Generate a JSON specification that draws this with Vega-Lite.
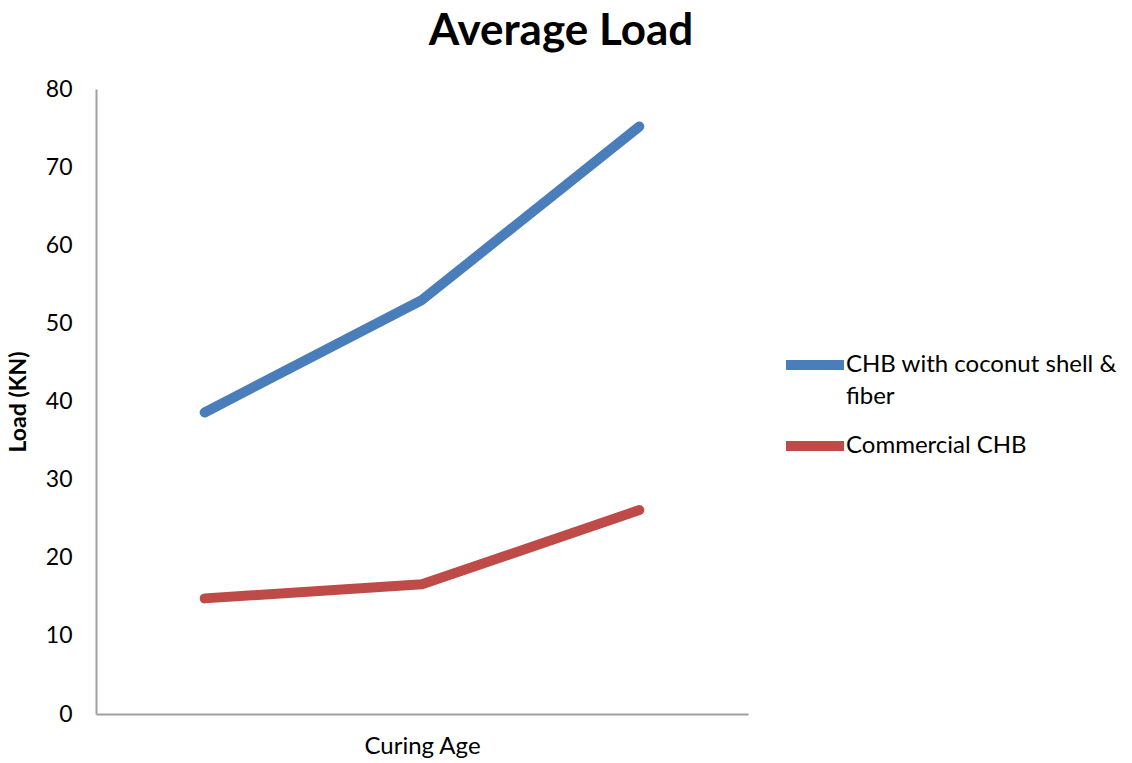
{
  "$schema": "https://vega.github.io/schema/vega-lite/v6.json",
  "width": 652,
  "height": 625,
  "autosize": {"type": "none"},
  "padding": {"left": 96, "top": 89, "right": 384, "bottom": 49},
  "config": {
    "font": "Lato",
    "view": {"stroke": null},
    "style": {"guide-label": {"lineHeight": 32}}
  },
  "title": {
    "text": "Average Load",
    "fontSize": 44,
    "fontWeight": "bold",
    "font": "Lato",
    "color": "#000000",
    "anchor": "middle",
    "dx": 139,
    "offset": 24
  },
  "data": {
    "values": [
      {"age": "7 days", "series": "CHB with coconut shell  & fiber", "load": 38.6},
      {"age": "14 days", "series": "CHB with coconut shell  & fiber", "load": 53.0},
      {"age": "28 days", "series": "CHB with coconut shell  & fiber", "load": 75.2},
      {"age": "7 days", "series": "Commercial CHB", "load": 14.8},
      {"age": "14 days", "series": "Commercial CHB", "load": 16.6},
      {"age": "28 days", "series": "Commercial CHB", "load": 26.1}
    ]
  },
  "mark": {"type": "line", "strokeWidth": 10, "strokeCap": "round", "strokeJoin": "round"},
  "encoding": {
    "x": {
      "field": "age",
      "type": "ordinal",
      "sort": null,
      "scale": {"type": "point", "padding": 0.5},
      "axis": {
        "title": "Curing Age",
        "titleFontSize": 24,
        "titleFontWeight": "normal",
        "titleColor": "#000000",
        "titlePadding": 20,
        "labels": false,
        "ticks": false,
        "tickSize": 0,
        "domainColor": "#A0A0A0",
        "domainWidth": 2,
        "grid": false
      }
    },
    "y": {
      "field": "load",
      "type": "quantitative",
      "scale": {"domain": [0, 80], "nice": false},
      "axis": {
        "title": "Load (KN)",
        "titleFontSize": 23,
        "titleFontWeight": "bold",
        "titleColor": "#000000",
        "titlePadding": 15,
        "values": [0, 10, 20, 30, 40, 50, 60, 70, 80],
        "labelFontSize": 23,
        "labelColor": "#000000",
        "labelPadding": 24,
        "ticks": false,
        "tickSize": 0,
        "domainColor": "#A0A0A0",
        "domainWidth": 2,
        "grid": false
      }
    },
    "color": {
      "field": "series",
      "type": "nominal",
      "sort": null,
      "scale": {
        "domain": ["CHB with coconut shell  & fiber", "Commercial CHB"],
        "range": ["#4A7EBB", "#BE4B48"]
      },
      "legend": {
        "title": null,
        "orient": "none",
        "legendX": 685,
        "legendY": 242,
        "symbolType": "stroke",
        "symbolSize": 3364,
        "symbolStrokeWidth": 10,
        "labelFontSize": 24,
        "labelColor": "#000000",
        "labelOffset": -3,
        "labelLimit": 400,
        "rowPadding": 3,
        "labelBaseline": "middle",
        "labelExpr": "datum.label == 'CHB with coconut shell  & fiber' ? ['CHB with coconut shell  &', 'fiber'] : datum.label"
      }
    }
  }
}
